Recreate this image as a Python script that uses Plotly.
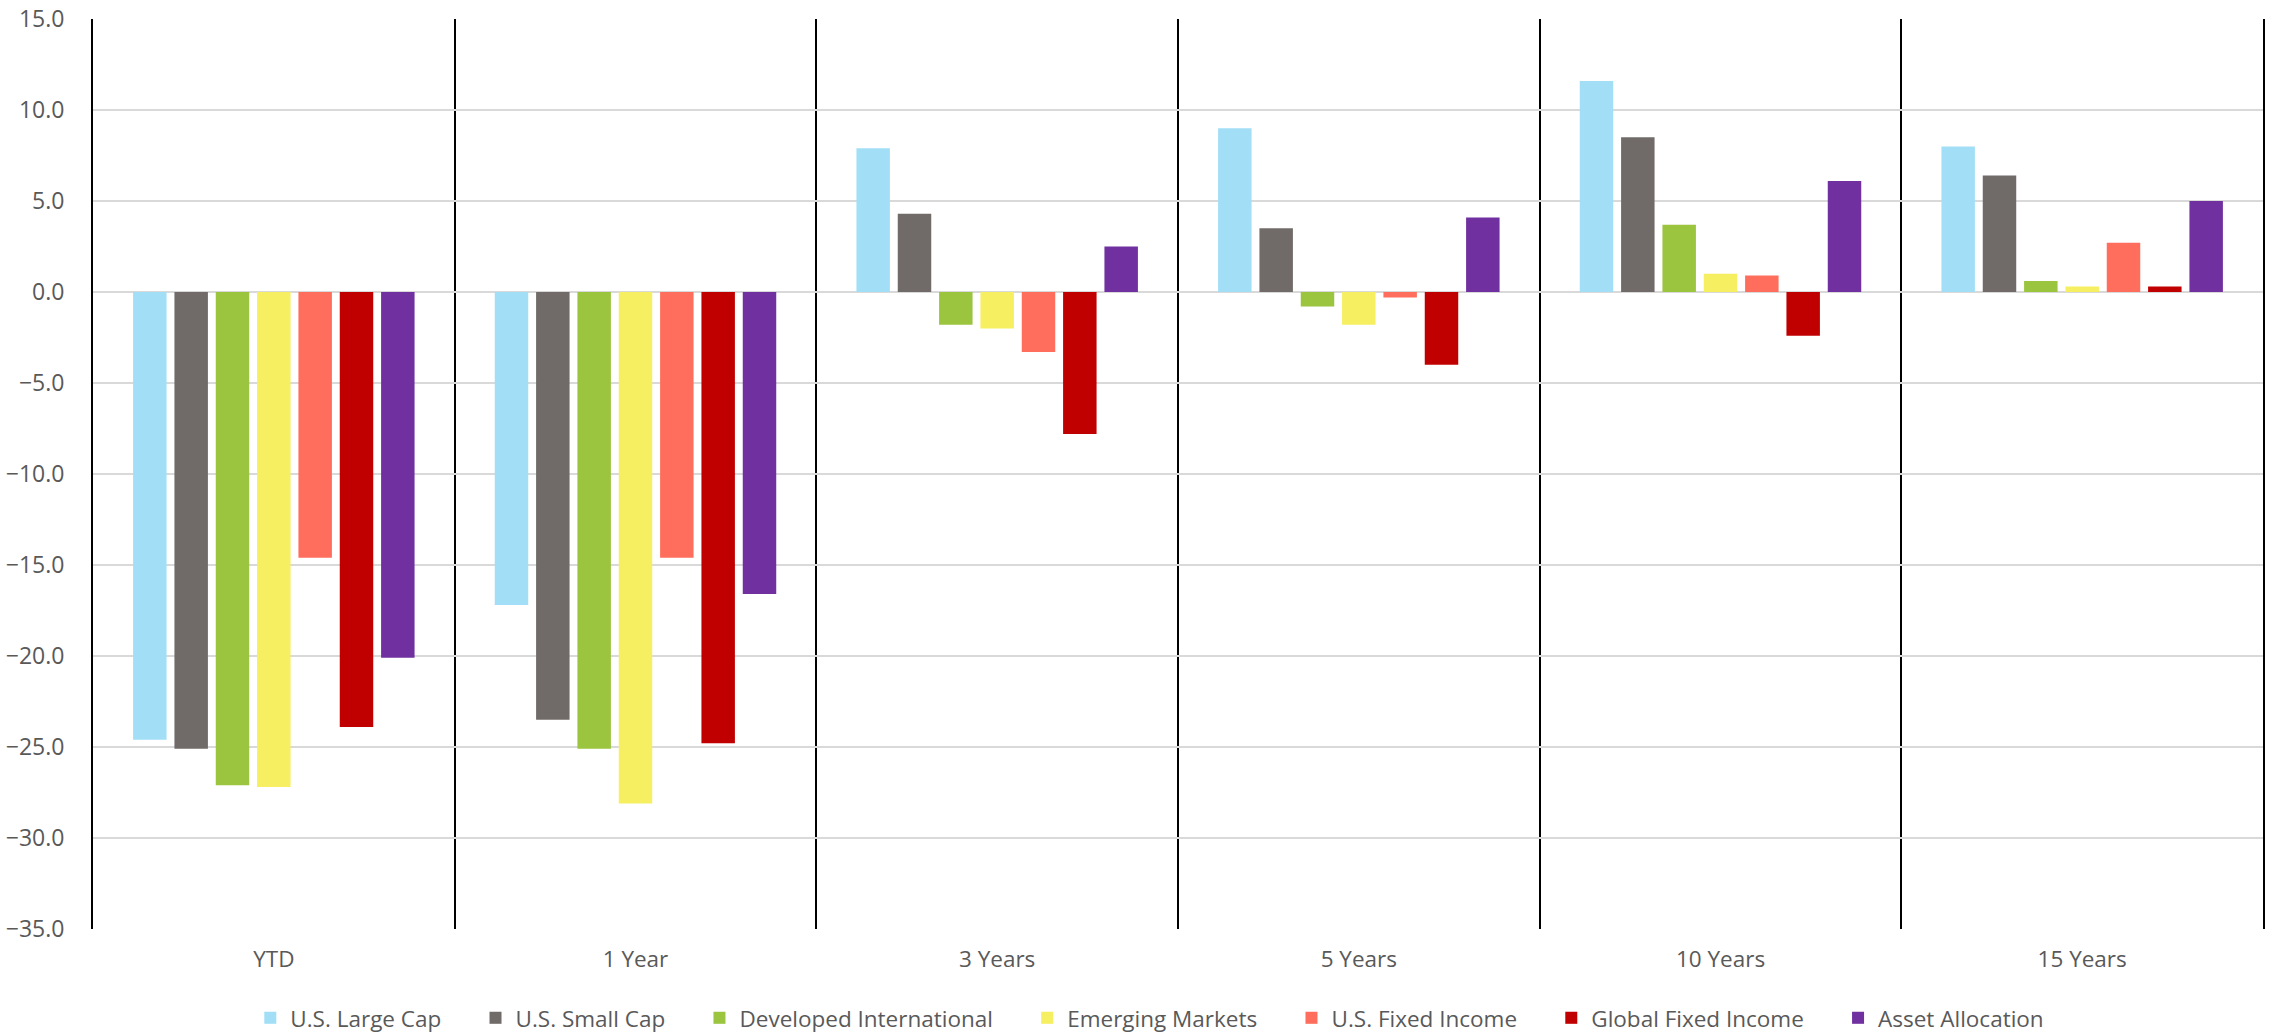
import plotly.graph_objects as go

# Trailing-period returns (%) by asset class
periods = ["YTD", "1 Year", "3 Years", "5 Years", "10 Years", "15 Years"]

us_large_cap = [-24.6, -17.2, 7.9, 9.0, 11.6, 8.0]
us_small_cap = [-25.1, -23.5, 4.3, 3.5, 8.5, 6.4]
developed_intl = [-27.1, -25.1, -1.8, -0.8, 3.7, 0.6]
emerging_markets = [-27.2, -28.1, -2.0, -1.8, 1.0, 0.3]
us_fixed_income = [-14.6, -14.6, -3.3, -0.3, 0.9, 2.7]
global_fixed_income = [-23.9, -24.8, -7.8, -4.0, -2.4, 0.3]
asset_allocation = [-20.1, -16.6, 2.5, 4.1, 6.1, 5.0]

series = [
    ("U.S. Large Cap", us_large_cap, "#A2DFF7"),
    ("U.S. Small Cap", us_small_cap, "#706B68"),
    ("Developed International", developed_intl, "#9BC43F"),
    ("Emerging Markets", emerging_markets, "#F6EF61"),
    ("U.S. Fixed Income", us_fixed_income, "#FF6E5C"),
    ("Global Fixed Income", global_fixed_income, "#C00000"),
    ("Asset Allocation", asset_allocation, "#7030A0"),
]

FONT = "Open Sans"
TEXT_COLOR = "#595959"
LEGEND_PAD = "\u00a0" * 5  # extra room between legend entries

fig = go.Figure()
for i, (name, vals, color) in enumerate(series):
    label = name if i == len(series) - 1 else name + LEGEND_PAD
    fig.add_trace(go.Bar(
        name=label, x=periods, y=vals,
        marker=dict(color=color, line=dict(width=0)),
    ))

fig.update_layout(
    width=2272, height=1035,
    margin=dict(l=93, r=9, t=19, b=106, autoexpand=False),
    paper_bgcolor="white", plot_bgcolor="white",
    barmode="group", bargap=0.2, bargroupgap=0.19,
    font=dict(family=FONT, size=22, color=TEXT_COLOR),
    showlegend=True,
    legend=dict(
        orientation="h", x=0.487, xanchor="center", y=-0.098, yanchor="middle",
        font=dict(family=FONT, size=22.5, color=TEXT_COLOR),
        itemwidth=30, traceorder="normal",
    ),
)

fig.update_xaxes(
    type="category", tickson="boundaries", ticks="",
    showgrid=True, gridcolor="black", gridwidth=2,
    showline=False, zeroline=False, automargin=False,
    tickfont=dict(family=FONT, size=22.5, color=TEXT_COLOR),
    ticklabelstandoff=14,
)

fig.update_yaxes(
    range=[-35, 15], dtick=5, tick0=0, tickformat=".1f",
    showgrid=True, gridcolor="#D9D9D9", gridwidth=2,
    zeroline=False, automargin=False,
    showline=True, linecolor="black", linewidth=2, mirror=True,
    ticks="", ticklabelstandoff=22,
    tickfont=dict(family=FONT, size=23, color=TEXT_COLOR),
)

fig.write_html("out.html")
